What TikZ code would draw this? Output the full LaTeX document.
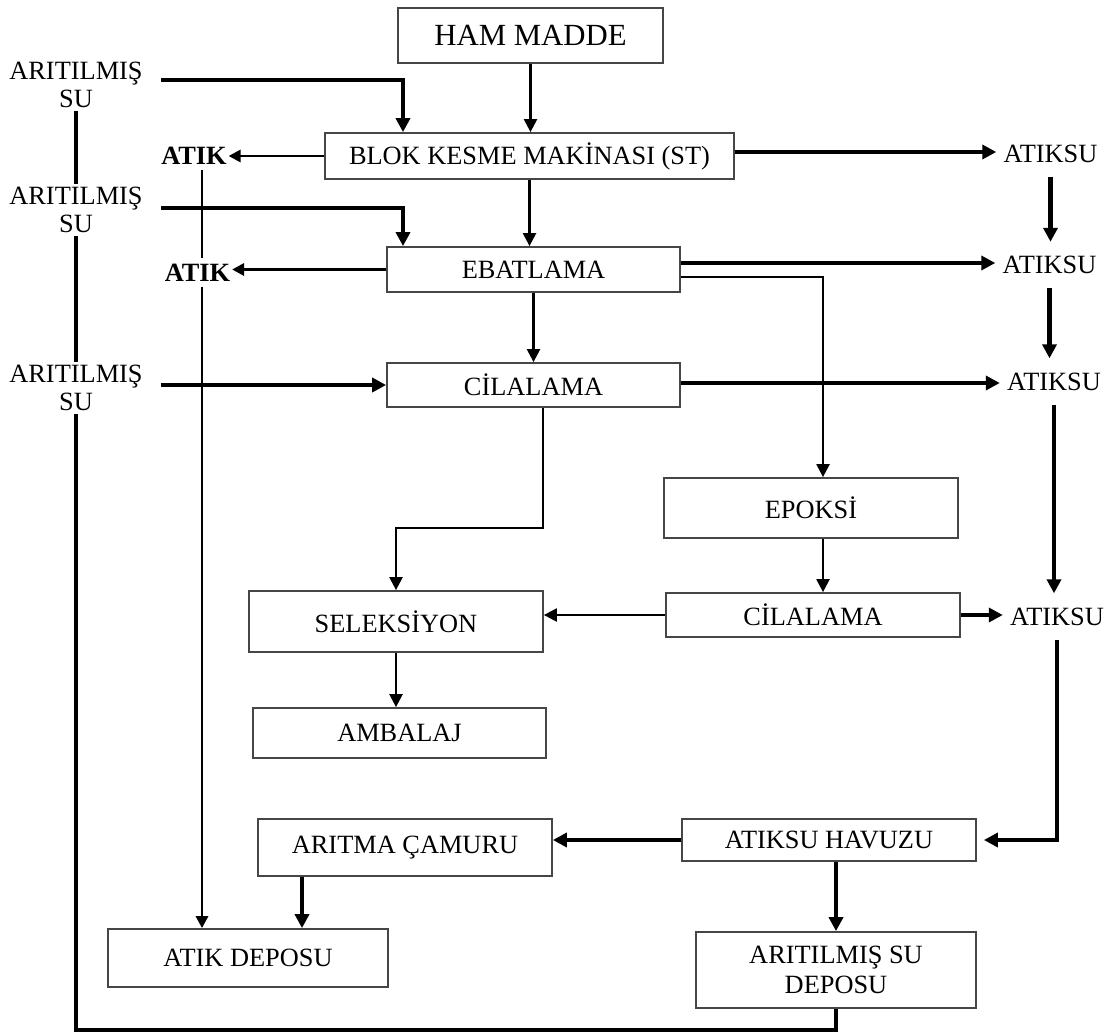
\documentclass[tikz,border=0pt]{standalone}
\usepackage{fontspec}
\setmainfont{Liberation Serif}
\usetikzlibrary{arrows.meta,calc}
\definecolor{boxgray}{RGB}{70,70,70}

\begin{document}
\begin{tikzpicture}[x=0.2mm, y=-0.2mm,
  every node/.style={font=\fontsize{15}{15.5}\selectfont},
  procbox/.style={draw=boxgray, line width=1pt, align=center, inner sep=0pt},
  flowlbl/.style={align=center, inner xsep=3.6mm, inner ysep=0.6mm},
  outlbl/.style={inner xsep=1.4mm, inner ysep=2.8mm},
  atiklbl/.style={font=\bfseries\fontsize{15}{15.5}\selectfont, inner xsep=0.3mm, inner ysep=1mm},
  thinflow/.style={line width=1.3pt, -{Triangle[length=2.6mm,width=2.6mm]}},
  medflow/.style={line width=1.7pt, -{Triangle[length=2.4mm,width=2.4mm]}},
  medline/.style={line width=1.7pt},
  thickflow/.style={line width=2.3pt, -{Triangle[length=2.8mm,width=2.8mm]}},
  thickline/.style={line width=2.3pt}]
  \useasboundingbox (0,0) rectangle (1113,1035);

  % process boxes
  \node[procbox, minimum width=53mm, minimum height=11mm, font=\fontsize{17.5}{20}\selectfont] (ham) at (530.5,35.5) {HAM MADDE};
  \node[procbox, minimum width=81.8mm, minimum height=9.2mm] (blok) at (529.5,156) {BLOK KESME MAKİNASI (ST)};
  \node[procbox, minimum width=58.6mm, minimum height=9mm] (ebat) at (533.5,269.5) {EBATLAMA};
  \node[procbox, minimum width=58.6mm, minimum height=8.8mm] (cil1) at (533.5,385) {CİLALAMA};
  \node[procbox, minimum width=58.8mm, minimum height=12mm] (epoksi) at (811,508) {EPOKSİ};
  \node[procbox, minimum width=58.8mm, minimum height=8.8mm] (cil2) at (813,615) {CİLALAMA};
  \node[procbox, minimum width=58.8mm, minimum height=12.2mm] (sel) at (396,621.5) {SELEKSİYON};
  \node[procbox, minimum width=58.6mm, minimum height=10mm] (amb) at (399.5,733) {AMBALAJ};
  \node[procbox, minimum width=58.8mm, minimum height=11.4mm] (camur) at (405,847.5) {ARITMA ÇAMURU};
  \node[procbox, minimum width=58.8mm, minimum height=8.4mm] (havuz) at (829,840) {ATIKSU HAVUZU};
  \node[procbox, minimum width=56mm, minimum height=11.6mm] (atikdep) at (248,958) {ATIK DEPOSU};
  \node[procbox, minimum width=56mm, minimum height=15.2mm, font=\fontsize{15}{17}\selectfont] (sudep) at (836,970) {ARITILMIŞ SU\\DEPOSU};

  % side labels
  \node[flowlbl] (su1) at (76,85) {ARITILMIŞ\\SU};
  \node[flowlbl] (su2) at (76,210) {ARITILMIŞ\\SU};
  \node[flowlbl] (su3) at (76,388) {ARITILMIŞ\\SU};
  \node[atiklbl] (atik1) at (194,155.5) {ATIK};
  \node[atiklbl] (atik2) at (197.5,272.5) {ATIK};
  \node[outlbl] (atiksu1) at (1050.5,153.5) {ATIKSU};
  \node[outlbl] (atiksu2) at (1049.5,265) {ATIKSU};
  \node[outlbl] (atiksu3) at (1054,381.5) {ATIKSU};
  \node[outlbl] (atiksu4) at (1057,616.5) {ATIKSU};

  \coordinate (feedx) at (403,0);
  \coordinate (atikx) at (202,0);
  \coordinate (loopcorner) at (76,1030);

  % main line
  \draw[thinflow] (ham.south) -- (ham.south |- blok.north);
  \draw[thinflow] (blok.south) -- (blok.south |- ebat.north);
  \draw[thinflow] (ebat.south) -- (ebat.south |- cil1.north);
  \draw[thinflow] ($(cil1.south)+(9.5,0)$) -- ++(0,120) -| (sel.north);
  \draw[thinflow] ($(ebat.east)+(0,7.5)$) -| ($(epoksi.north)+(12,0)$);
  \draw[thinflow] ($(epoksi.south)+(12,0)$) -- ($(epoksi.south |- cil2.north)+(12,0)$);
  \draw[thinflow] (cil2.west) -- (cil2.west -| sel.east);
  \draw[thinflow] (sel.south) -- (sel.south |- amb.north);

  % treated water in
  \draw[thickflow] ($(su1.east)+(0,-5)$) -| (blok.north -| feedx);
  \draw[thickflow] ($(su2.east)+(0,-2)$) -| (ebat.north -| feedx);
  \draw[thickflow] ($(su3.east)+(0,-3)$) -- ($(su3.east -| cil1.west)+(0,-3)$);
  \draw[thickline] (su1.south) -- (su2.north);
  \draw[thickline] (su2.south) -- (su3.north);
  \draw[thickline] (su3.south) -- (loopcorner) -| (sudep.south);

  % solid waste
  \draw[medflow] (blok.west) -- (blok.west -| atik1.east);
  \draw[medflow] (ebat.west) -- (ebat.west -| atik2.east);
  \draw[medline] (atik1.south -| atikx) -- (atik2.north -| atikx);
  \draw[medflow] (atik2.south -| atikx) -- (atikdep.north -| atikx);

  % waste water
  \draw[thickflow] ($(blok.east)+(0,-4)$) -- ($(blok.east -| atiksu1.west)+(0,-4)$);
  \draw[thickflow] ($(ebat.east)+(0,-6.5)$) -- ($(ebat.east -| atiksu2.west)+(0,-6.5)$);
  \draw[thickflow] ($(cil1.east)+(0,-2)$) -- ($(cil1.east -| atiksu3.west)+(0,-2)$);
  \draw[thickflow] (cil2.east) -- (cil2.east -| atiksu4.west);
  \draw[thickflow] (atiksu1.south) -- (atiksu1.south |- atiksu2.north);
  \draw[thickflow] (atiksu2.south) -- (atiksu2.south |- atiksu3.north);
  \draw[thickflow] (atiksu3.south) -- (atiksu3.south |- atiksu4.north);
  \draw[thickflow] (atiksu4.south) |- ($(havuz.east)+(7,0)$);
  \draw[thickflow] (havuz.west) -- (havuz.west -| camur.east);
  \draw[thickflow] ($(camur.south)+(-103,0)$) -- ($(camur.south |- atikdep.north)+(-103,0)$);
  \draw[thickflow] (havuz.south -| sudep.north) -- (sudep.north);
\end{tikzpicture}
\end{document}
